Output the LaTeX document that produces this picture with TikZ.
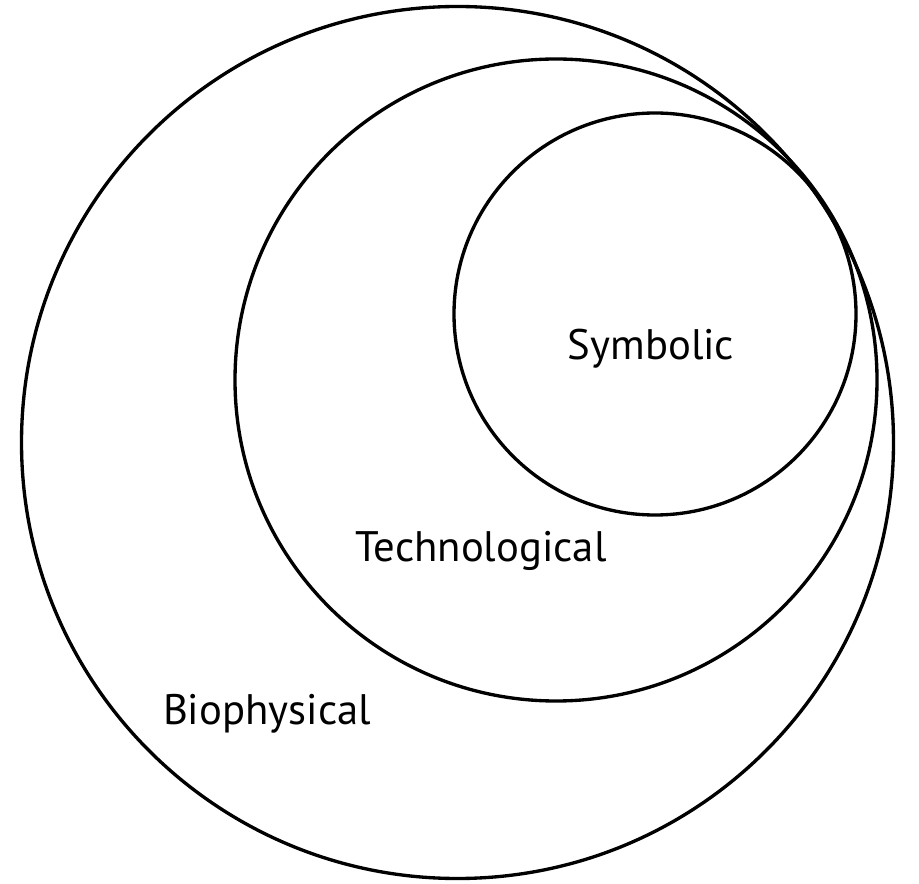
\documentclass[tikz,border=0pt]{standalone}
\usepackage{fontspec}
\setmainfont{PT Sans}
\begin{document}
\begin{tikzpicture}[x=0.02cm, y=-0.02cm, line width=1.9pt]
    \tikzset{sphere/.style={draw=black}, tag/.style={font=\fontsize{24.3}{28}\selectfont, inner sep=0pt}}
    \useasboundingbox (0,0) rectangle (919,884);

    % Draw nested circles, all touching at the upper right
    \draw[sphere] (457.5,442.5) circle (436);
    \draw[sphere] (556,380) circle (321);
    \draw[sphere] (655,314) circle (201);

    % Labels
    \node[tag] (symbolic) at (651,349) {Symbolic};
    \node[tag] (techno) at (481,551) {Technological};
    \node[tag] (bio) at (267,714) {Biophysical};
\end{tikzpicture}
\end{document}
